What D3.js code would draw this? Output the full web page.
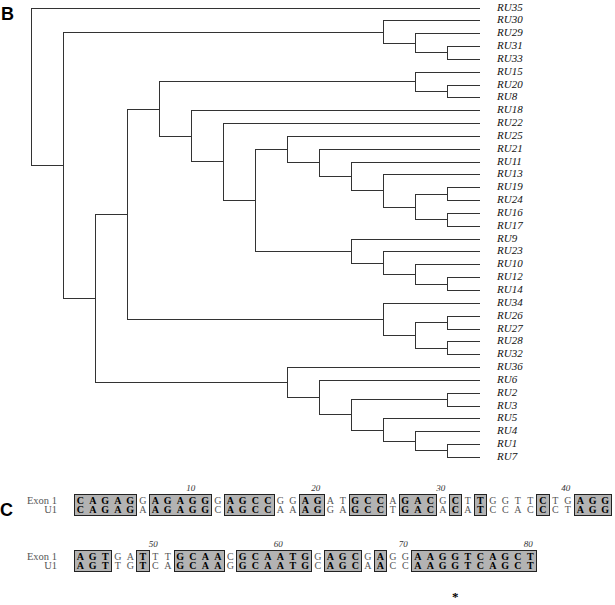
<!DOCTYPE html>
<html>
<head>
<meta charset="utf-8">
<script src="https://cdn.jsdelivr.net/npm/d3@7"></script>
<style>
  body { margin: 0; background: #fff; }
</style>
</head>
<body>
<svg id="fig"></svg>
<script>
// --- tree topology (leaf order top -> bottom) ---
const tree = ["RU35",
  [["RU30", ["RU29", ["RU31", "RU33"]]],
   [[[["RU15", ["RU20", "RU8"]],
      ["RU18", ["RU22",
        [["RU25", ["RU21", ["RU11", ["RU13", [["RU19", "RU24"], ["RU16", "RU17"]]]]]],
         ["RU9", ["RU23", ["RU10", ["RU12", "RU14"]]]]]]]],
     ["RU34", [["RU26", "RU27"], ["RU28", "RU32"]]]],
    ["RU36", ["RU6", [["RU2", "RU3"], ["RU5", ["RU4", ["RU1", "RU7"]]]]]]]]];

// --- alignment ---
const seqNames = ["Exon 1", "U1"];
const exon1 = "CAGAGGAGAGGGAGCCGGAGATGCCAGACGCTTGGTTCTGAGG" + "AGTGATTTGCAACGCAATGGAGCGAGGAAGGTCAGCT";
const u1    = "CAGAGAAGAGGCAGCCAAAGGAGCCTGACACATCCACCCTAGG" + "AGTTGTCAGCAAGGCAATGCAGCAACCAAGGTCAGCT";
const blockStarts = [0, 43];          // alignment wraps after position 43
const tickPositions = [10, 20, 30, 40, 50, 60, 70, 80];
const markedPositions = [74];

const W = 615, H = 605;
const svg = d3.select('#fig').attr('width', W).attr('height', H);

// panel letters
svg.append('text')
    .attr('x', 1).attr('y', 20)
    .style('font-family', 'Liberation Sans, Arial, sans-serif')
    .style('font-weight', 'bold').style('font-size', '18px')
    .text('B');
svg.append('text')
    .attr('x', 0).attr('y', 516)
    .style('font-family', 'Liberation Sans, Arial, sans-serif')
    .style('font-weight', 'bold').style('font-size', '18px')
    .text('C');

// --- B: dendrogram ---
const root = d3.hierarchy(tree, d => Array.isArray(d) ? d : null);
d3.cluster().nodeSize([1, 1]).separation(() => 1)(root);
const leaves = root.leaves();

const y = d3.scaleLinear().domain(d3.extent(leaves, d => d.x)).range([8, 457.4]);
const x = d3.scaleLinear().domain([0, root.height]).range([31, 480]);

svg.append('g')
    .attr('fill', 'none')
    .attr('stroke', '#333')
    .attr('stroke-width', 1)
    .attr('shape-rendering', 'crispEdges')
    .selectAll('path')
    .data(root.links())
    .join('path')
    .attr('d', d => `M${x(d.source.y)},${y(d.source.x)}V${y(d.target.x)}H${x(d.target.y)}`);

svg.append('g')
    .selectAll('text')
    .data(leaves)
    .join('text')
    .attr('x', d => x(d.y) + 17)
    .attr('y', d => y(d.x) + 2.5)
    .style('font-family', 'Liberation Serif, Times New Roman, serif')
    .style('font-style', 'italic')
    .style('font-size', '11px')
    .style('fill', '#111')
    .text(d => d.data);

// --- C: alignment ---
const seqs = [exon1, u1];
const blockEnds = blockStarts.slice(1).concat(exon1.length);
const cell = d3.scaleBand().domain(d3.range(43)).range([74, 611.5]);
const bw = cell.bandwidth();
const blockTop = b => 494 + b * 56;

blockStarts.forEach((start, b) => {
    const end = blockEnds[b];
    const top = blockTop(b);
    const g = svg.append('g');

    // runs of identical bases -> shaded boxes
    const runs = [];
    for (let i = start; i < end; i++) {
        if (exon1[i] !== u1[i]) continue;
        const last = runs[runs.length - 1];
        if (last && last.end === i) last.end = i + 1;
        else runs.push({ start: i, end: i + 1 });
    }
    g.selectAll('rect')
        .data(runs)
        .join('rect')
        .attr('x', d => cell(d.start - start))
        .attr('width', d => (d.end - d.start) * bw)
        .attr('y', top)
        .attr('height', 21)
        .attr('fill', '#b3b3b3')
        .attr('stroke', '#222')
        .attr('shape-rendering', 'crispEdges');

    // sequence names
    g.selectAll('text.name')
        .data(seqNames)
        .join('text')
        .attr('class', 'name')
        .attr('x', 57)
        .attr('y', (d, r) => top + 9.5 + r * 9)
        .attr('text-anchor', 'end')
        .style('font-family', 'Liberation Serif, Times New Roman, serif')
        .style('font-size', '10.5px')
        .style('fill', '#555')
        .text(d => d);

    // bases
    const bases = [];
    seqs.forEach((s, r) => {
        for (let i = start; i < end; i++) bases.push({ i, r, ch: s[i], same: exon1[i] === u1[i] });
    });
    g.selectAll('text.base')
        .data(bases)
        .join('text')
        .attr('class', 'base')
        .attr('x', d => cell(d.i - start) + bw / 2)
        .attr('y', d => top + 9.5 + d.r * 9)
        .attr('text-anchor', 'middle')
        .style('font-family', 'Liberation Serif, Times New Roman, serif')
        .style('font-size', '10px')
        .style('font-weight', d => d.same ? 'bold' : 'normal')
        .style('fill', d => d.same ? '#000' : '#555')
        .text(d => d.ch);

    // position numbers
    g.selectAll('text.tick')
        .data(tickPositions.filter(p => p > start && p <= end))
        .join('text')
        .attr('class', 'tick')
        .attr('x', p => cell(p - 1 - start) + bw / 2 - 2)
        .attr('y', top - 3)
        .attr('text-anchor', 'middle')
        .style('font-family', 'Liberation Serif, Times New Roman, serif')
        .style('font-style', 'italic')
        .style('font-size', '9px')
        .style('fill', '#333')
        .text(p => p);

    // marked positions
    g.selectAll('text.mark')
        .data(markedPositions.filter(p => p > start && p <= end))
        .join('text')
        .attr('class', 'mark')
        .attr('x', p => cell(p - 1 - start) + bw / 2)
        .attr('y', top + 51)
        .attr('text-anchor', 'middle')
        .style('font-family', 'Liberation Serif, Times New Roman, serif')
        .style('font-weight', 'bold')
        .style('font-size', '13px')
        .style('fill', '#000')
        .text('*');
});
</script>
</body>
</html>
